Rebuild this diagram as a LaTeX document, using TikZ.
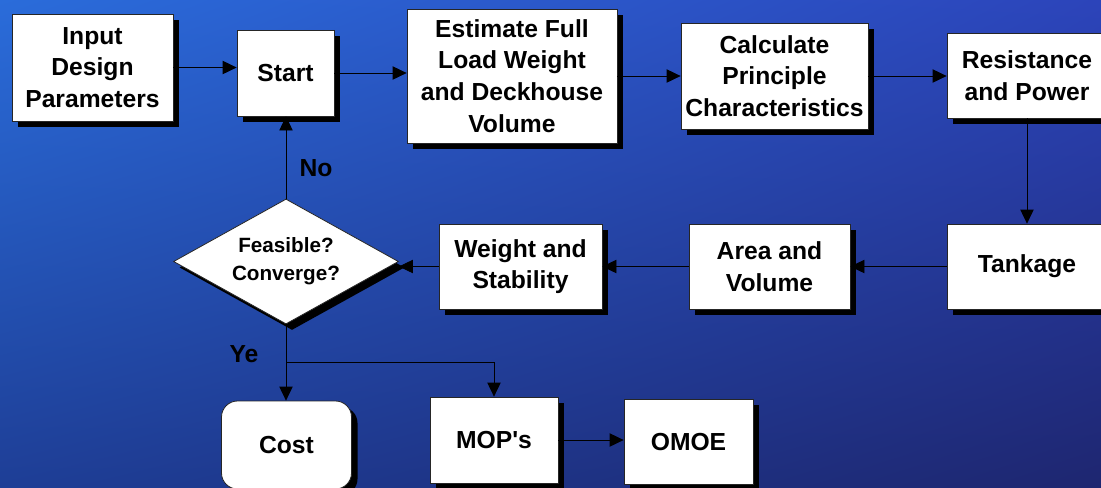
\documentclass[tikz,border=0pt]{standalone}
\usepackage{fontspec}
\setmainfont{Liberation Sans}
\usepackage{tikz}
\usetikzlibrary{arrows.meta,shapes.geometric,shadows,shadings}

\definecolor{bgul}{RGB}{42,108,218}
\definecolor{bgur}{RGB}{44,68,186}
\definecolor{bgll}{RGB}{30,62,150}
\definecolor{bglr}{RGB}{30,38,112}

\begin{document}
\begin{tikzpicture}[x=0.75pt,y=-0.75pt,
	blk/.style={draw=black!85,line width=0.6pt,fill=white,align=center,inner sep=0pt,
		font=\fontsize{18.5pt}{23.8pt}\selectfont\bfseries,
		drop shadow={shadow xshift=4.5pt,shadow yshift=-4.5pt,opacity=1,fill=black}},
	dec/.style={blk,diamond,aspect=1.8,font=\fontsize{15.5pt}{21pt}\selectfont\bfseries},
	arr/.style={-{Triangle[length=10.5pt,width=10pt]},line width=0.6pt},
	lbl/.style={font=\fontsize{18.5pt}{22pt}\selectfont\bfseries,inner sep=0pt}]

	% background
	\useasboundingbox (0,0) rectangle (1101,487);
	\shade[upper left=bgul,upper right=bgur,lower left=bgll,lower right=bglr] (0,0) rectangle (1101,487);

	\node[blk,minimum width=120.75pt,minimum height=80.25pt] (inp) at (92.5,67.5) {Input\\Design\\Parameters};
	\node[blk,minimum width=72.75pt,minimum height=64.5pt] (start) at (285.5,73) {Start};
	\node[blk,minimum width=157.5pt,minimum height=100.5pt] (est) at (512,76) {Estimate Full\\Load Weight\\and Deckhouse\\Volume};
	\node[blk,minimum width=140.25pt,minimum height=79.5pt] (calc) at (774.5,76) {Calculate\\Principle\\Characteristics};
	\node[blk,minimum width=120pt,minimum height=63.75pt] (res) at (1027,75.5) {Resistance\\and Power};
	\node[blk,minimum width=120pt,minimum height=63.75pt] (tank) at (1027,266.5) {Tankage};
	\node[blk,minimum width=120.75pt,minimum height=63.75pt] (area) at (769.5,266.5) {Area and\\Volume};
	\node[blk,minimum width=122.25pt,minimum height=63.75pt] (wgt) at (520.5,266.5) {Weight and\\Stability};
	\node[dec,minimum width=168.75pt,minimum height=93.75pt] (dia) at (286,261.5) {Feasible?\\Converge?};
	\node[blk,rounded corners=12pt,minimum width=97.5pt,minimum height=66pt] (cost) at (286.5,445) {Cost};
	\node[blk,minimum width=96pt,minimum height=64.5pt] (mop) at (494,440) {MOP\textquotesingle s};
	\node[blk,minimum width=96.75pt,minimum height=63.75pt] (omoe) at (688.5,441.5) {OMOE};

	\node[lbl] (no) at (316,168) {No};
	\node[lbl] (ye) at (244,354) {Ye};
	\coordinate (fork) at (286,362);

	\draw[arr] (inp.east) -- (inp.east -| start.west);
	\draw[arr] (start.east) -- (start.east -| est.west);
	\draw[arr] (est.east) -- (est.east -| calc.west);
	\draw[arr] (calc.east) -- (calc.east -| res.west);
	\draw[arr] (res.south) -- (tank.north);
	\draw[arr] (tank.west) -- (area.east);
	\draw[arr] (area.west) -- (wgt.east);
	\draw[arr] (wgt.west) -- (wgt.west -| dia.east);
	\draw[arr] (dia.north) -- (dia.north |- start.south);
	\draw[arr] (dia.south) -- (dia.south |- cost.north);
	\draw[arr] (fork) -| (mop.north);
	\draw[arr] (mop.east) -- (mop.east -| omoe.west);
\end{tikzpicture}
\end{document}
